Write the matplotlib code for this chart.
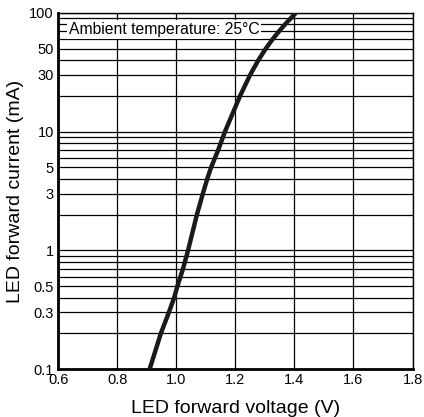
import matplotlib
matplotlib.use("Agg")
import matplotlib.pyplot as plt
from matplotlib.ticker import FixedLocator, NullFormatter, LogLocator

plt.rcParams['font.family'] = ['Liberation Sans', 'DejaVu Sans']

# data
current_ma = [0.1, 0.2, 0.3, 0.4, 0.5, 0.7, 1, 2, 3, 4, 5, 7, 10,
              20, 30, 40, 50, 60, 70, 80, 100]
voltage_v = [0.91, 0.948, 0.975, 0.993, 1.004, 1.023, 1.040, 1.070, 1.090, 1.105,
             1.118, 1.142, 1.165, 1.216, 1.250, 1.278, 1.303, 1.326, 1.348, 1.368, 1.405]

x_ticks = [0.6, 0.8, 1.0, 1.2, 1.4, 1.6, 1.8]
x_tick_labels = ["0.6", "0.8", "1.0", "1.2", "1.4", "1.6", "1.8"]
y_ticks = [0.1, 0.3, 0.5, 1, 3, 5, 10, 30, 50, 100]
y_tick_labels = ["0.1", "0.3", "0.5", "1", "3", "5", "10", "30", "50", "100"]

fig = plt.figure(figsize=(4.24, 4.17), dpi=100)
ax = fig.add_axes([0.137, 0.115, 0.836, 0.854])

ax.set_yscale('log')
ax.set_xlim(0.6, 1.8)
ax.set_ylim(0.1, 100)

ax.plot(voltage_v, current_ma, color='#1a1a1a', lw=3.2, solid_capstyle='butt',
        solid_joinstyle='round', zorder=4, clip_on=True)

ax.xaxis.set_major_locator(FixedLocator(x_ticks))
ax.set_xticklabels(x_tick_labels)
ax.yaxis.set_major_locator(FixedLocator(y_ticks))
ax.yaxis.set_minor_locator(LogLocator(base=10, subs=[1, 2, 3, 4, 5, 6, 7, 8, 9]))
ax.yaxis.set_minor_formatter(NullFormatter())
ax.set_yticklabels(y_tick_labels)

ax.grid(True, which='both', axis='y', color='black', lw=0.9)
ax.grid(True, which='major', axis='x', color='black', lw=0.9)
ax.set_axisbelow(True)

ax.tick_params(axis='both', which='both', length=0, labelsize=10.5, colors='black', pad=3)
for s in ['left', 'bottom']:
    ax.spines[s].set_linewidth(2.0)
for s in ['top', 'right']:
    ax.spines[s].set_linewidth(1.0)

ax.set_xlabel("LED forward voltage (V)", fontsize=14, labelpad=9)
ax.set_ylabel("LED forward current (mA)", fontsize=14, labelpad=4)

ax.text(0.03, 0.975, "Ambient temperature: 25°C", transform=ax.transAxes,
        fontsize=11.3, va='top', ha='left', zorder=5,
        bbox=dict(facecolor='white', edgecolor='none', pad=1.5))

fig.savefig("out.png", dpi=100)
